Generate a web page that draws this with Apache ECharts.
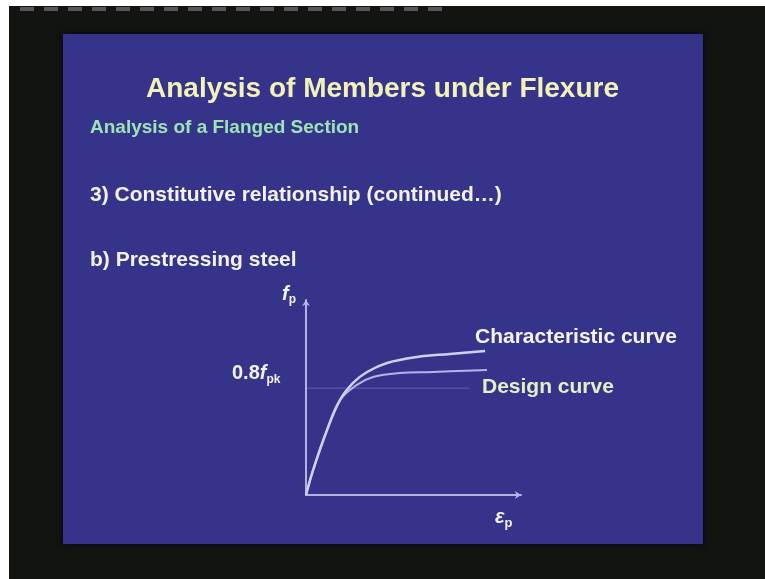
<!DOCTYPE html>
<html>
<head>
<meta charset="utf-8">
<script src="https://cdn.jsdelivr.net/npm/echarts@6/dist/echarts.min.js"></script>
<style>
html,body{margin:0;padding:0;background:#121410;}
#c{width:765px;height:579px;}
</style>
</head>
<body>
<div id="c"></div>
<script>
// Strain (arbitrary units) and stress (fraction of f_pk)
var charX = [0, 0.33, 0.98, 1.58, 2.19, 2.84, 3.77, 5.16, 6.70, 8.33];
var charY = [0, 0.187, 0.487, 0.711, 0.839, 0.921, 0.988, 1.033, 1.056, 1.078];
var designX = [0, 0.33, 0.98, 1.58, 2.37, 3.12, 4.37, 5.91, 8.42];
var designY = [0, 0.187, 0.487, 0.711, 0.824, 0.883, 0.913, 0.921, 0.936];
var refLevelX = [0, 7.6];
var refLevelY = [0.8, 0.8];
var titleText = 'Analysis of Members under Flexure';
var subtitleText = 'Analysis of a Flanged Section';
var bullet1 = '3) Constitutive relationship (continued…)';
var bullet2 = 'b) Prestressing steel';
var charName = 'Characteristic curve';
var designName = 'Design curve';

function pairs(xs, ys){ return xs.map(function(x,i){ return [x, ys[i]]; }); }

var chart = echarts.init(document.getElementById('c'));
var F = 'Liberation Sans, Arial, sans-serif';
var TXT = '#f2f2e4';
var option = {
  backgroundColor: '#121410',
  animation: false,
  graphic: [
    {type:'rect', shape:{x:0,y:0,width:9,height:579}, style:{fill:'#ffffff'}, z:-10},
    {type:'rect', shape:{x:0,y:0,width:765,height:6}, style:{fill:'#ffffff'}, z:-10},
    {type:'line', shape:{x1:20,y1:9,x2:450,y2:9}, style:{stroke:'#55575a',lineWidth:4,lineDash:[14,10]}, z:-10},
    {type:'rect', shape:{x:63,y:34,width:640,height:510}, style:{fill:'#36348a', shadowBlur:6, shadowColor:'rgba(0,0,30,0.8)'}, z:-9},
    {type:'text', left:'center', top:75, style:{text:titleText, fill:'#f2f2b8', font:'bold 28px '+F}},
    {type:'text', left:90, top:118, style:{text:subtitleText, fill:'#9de4b4', font:'bold 19px '+F}},
    {type:'text', left:90, top:185, style:{text:bullet1, fill:TXT, font:'bold 21px '+F}},
    {type:'text', left:90, top:250, style:{text:bullet2, fill:TXT, font:'bold 21px '+F}},
    {type:'text', left:475, top:327, style:{text:charName, fill:'#f4f4f4', font:'bold 21px '+F}},
    {type:'text', left:482, top:377, style:{text:designName, fill:'#e2f0c4', font:'bold 21px '+F}},
    {type:'text', left:232, top:363, style:{
      rich:{a:{font:'bold 20px '+F, fill:TXT}, i:{font:'italic bold 20px '+F, fill:TXT}, s:{font:'bold 12px '+F, fill:TXT, padding:[14,0,0,0]}},
      text:'{a|0.8}{i|f}{s|pk}'}}
  ],
  grid: {left:306, top:300, width:215, height:195},
  xAxis: {
    type:'value', min:0, max:10,
    axisLine:{show:true, onZero:false, lineStyle:{color:'#b4b4e2', width:2}, symbol:['none','arrow'], symbolSize:[6,6]},
    axisTick:{show:false}, axisLabel:{show:false}, splitLine:{show:false},
    name:'{i|ε}{s|p}', nameLocation:'end', nameGap:0,
    nameTextStyle:{padding:[44,0,0,-26], rich:{
      i:{fontSize:20, fontStyle:'italic', fontWeight:'bold', fontFamily:F, color:TXT},
      s:{fontSize:13, fontWeight:'bold', fontFamily:F, color:TXT, padding:[12,0,0,0]}}}
  },
  yAxis: {
    type:'value', min:0, max:1.46,
    axisLine:{show:true, onZero:false, lineStyle:{color:'#b4b4e2', width:2}, symbol:['none','arrow'], symbolSize:[6,6]},
    axisTick:{show:false}, axisLabel:{show:false}, splitLine:{show:false},
    name:'{i|f}{s|p}', nameLocation:'end', nameGap:-6,
    nameTextStyle:{padding:[0,34,0,0], rich:{
      i:{fontSize:20, fontStyle:'italic', fontWeight:'bold', fontFamily:F, color:TXT},
      s:{fontSize:12, fontWeight:'bold', fontFamily:F, color:TXT, padding:[12,0,0,0]}}}
  },
  series: [
    {type:'line', name:'ref', data:pairs(refLevelX, refLevelY), symbol:'none', silent:true,
     lineStyle:{color:'rgba(150,150,210,0.45)', width:1}},
    {type:'line', name:designName, data:pairs(designX, designY), smooth:0.4, symbol:'none',
     lineStyle:{color:'#b4b4e6', width:2}},
    {type:'line', name:charName, data:pairs(charX, charY), smooth:0.4, symbol:'none',
     lineStyle:{color:'#d0d0f4', width:2.5}}
  ]
};
chart.setOption(option);
</script>
</body>
</html>
